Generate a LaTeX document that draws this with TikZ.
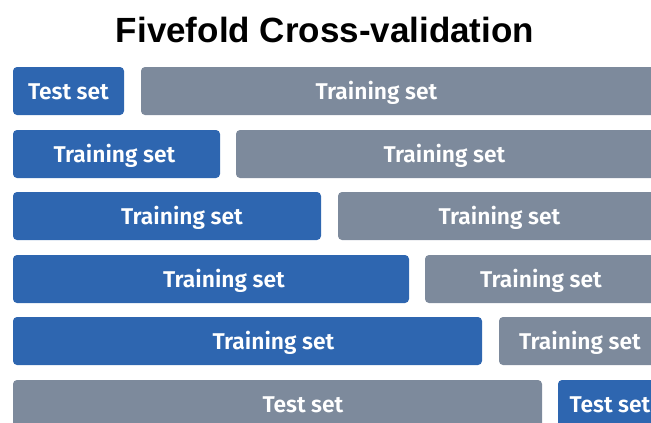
\documentclass[tikz,border=0pt]{standalone}
\usepackage{fontspec}
\setmainfont{Liberation Sans}
\setsansfont{Fira Sans}[BoldFont={Fira Sans SemiBold}]
\usepackage{tikz}

\definecolor{foldblue}{HTML}{2E66B0}
\definecolor{foldgray}{HTML}{7D8A9C}

\tikzset{
  testbox/.style={fill=foldblue, rounded corners=4pt},
  trainbox/.style={fill=foldgray, rounded corners=4pt},
  setlabel/.style={text=white, font=\sffamily\bfseries\fontsize{22.8}{26}\selectfont, inner sep=0pt, anchor=base}
}

\begin{document}
\begin{tikzpicture}[x=1pt, y=-1pt]
  \useasboundingbox (0,0) rectangle (651,423);
  \clip (0,0) rectangle (651,423);
  \node[font=\bfseries\fontsize{35}{40}\selectfont, anchor=base] (title) at (325,42) {Fivefold Cross-validation};
  % fold 1
  \fill[testbox] (13,67) rectangle (124,115);
  \fill[trainbox] (141,67) rectangle (670,115);
  \node[setlabel] (f1a) at (68.5,99) {Test set};
  \node[setlabel] (f1b) at (376.5,99) {Training set};
  % fold 2
  \fill[testbox] (13,130) rectangle (220,178);
  \fill[trainbox] (236,130) rectangle (670,178);
  \node[setlabel] (f2a) at (114.5,162) {Training set};
  \node[setlabel] (f2b) at (444.5,162) {Training set};
  % fold 3
  \fill[testbox] (13,192) rectangle (321,240);
  \fill[trainbox] (338,192) rectangle (670,240);
  \node[setlabel] (f3a) at (182,224) {Training set};
  \node[setlabel] (f3b) at (499.5,224) {Training set};
  % fold 4
  \fill[testbox] (13,255) rectangle (409,303);
  \fill[trainbox] (425,255) rectangle (670,303);
  \node[setlabel] (f4a) at (224,287) {Training set};
  \node[setlabel] (f4b) at (541,287) {Training set};
  % fold 5
  \fill[testbox] (13,317) rectangle (482,365);
  \fill[trainbox] (499,317) rectangle (670,365);
  \node[setlabel] (f5a) at (273.5,349) {Training set};
  \node[setlabel] (f5b) at (580,349) {Training set};
  % last row
  \fill[trainbox] (13,380) rectangle (542,428);
  \fill[testbox] (558,380) rectangle (670,428);
  \node[setlabel] (f6a) at (303,412) {Test set};
  \node[setlabel] (f6b) at (610,412) {Test set};
\end{tikzpicture}
\end{document}
